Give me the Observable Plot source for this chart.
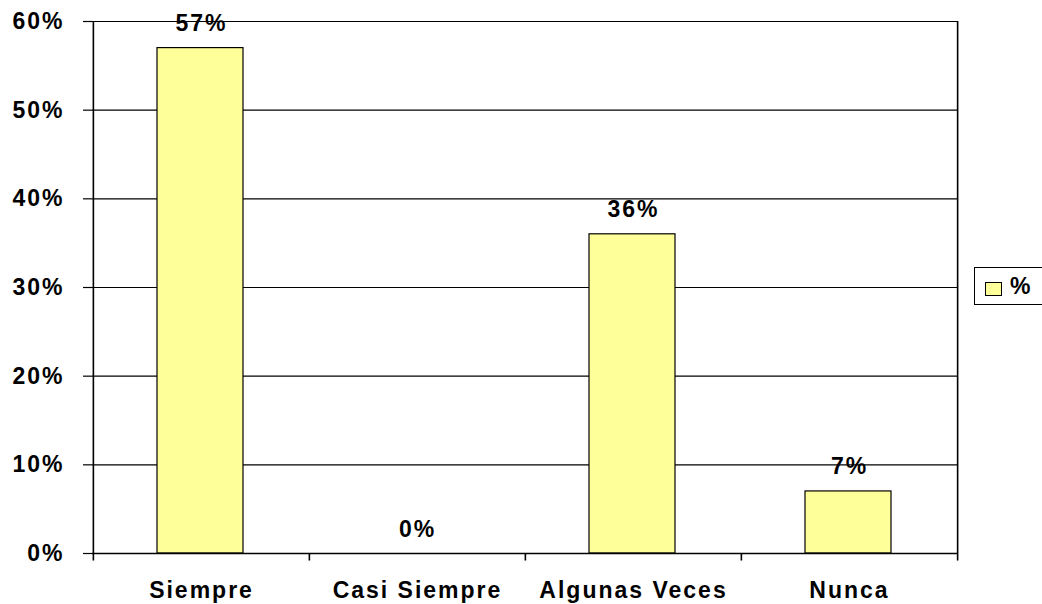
<!DOCTYPE html>
<html>
<head>
<meta charset="utf-8">
<script src="https://cdn.jsdelivr.net/npm/d3@7"></script>
<script src="https://cdn.jsdelivr.net/npm/@observablehq/plot@0.6"></script>
<style>
  html, body { margin: 0; padding: 0; background: #fff; }
  #wrap { position: relative; width: 1042px; height: 604px; overflow: hidden; }
  #legend { position: absolute; left: 974px; top: 267px; width: 90px; height: 38px; border: 1px solid #000; background: #fff; box-sizing: border-box;
    font-family: "Liberation Sans", Arial, sans-serif; font-weight: bold; font-size: 23px; }
  #legend .sw { position: absolute; left: 10px; top: 14px; width: 15px; height: 12px; background: #FFFF99; border: 1px solid #000; }
  #legend .lb { position: absolute; left: 35px; top: 5px; letter-spacing: 2px; }
  svg text { font-family: "Liberation Sans", Arial, sans-serif; font-weight: bold; letter-spacing: 2px; }
</style>
</head>
<body>
<div id="wrap"></div>
<script>
const categories = ["Siempre", "Casi Siempre", "Algunas Veces", "Nunca"];
const values = [0.57, 0.00, 0.36, 0.07];
const yTicks = [0, 0.1, 0.2, 0.3, 0.4, 0.5, 0.6];
const seriesName = "%";

const data = categories.map((c, i) => ({cat: c, value: values[i]}));
const pct = d3.format(".0%");
const W = 1042, H = 604, mL = 92, mR = 85, mT = 21, mB = 51;
const step = (W - mL - mR) / categories.length;

const chart = Plot.plot({
  width: W,
  height: H,
  marginLeft: mL,
  marginRight: mR,
  marginTop: mT,
  marginBottom: mB,
  style: {background: "#fff", overflow: "visible"},
  x: {type: "band", domain: categories, padding: 0},
  y: {domain: [0, 0.6]},
  marks: [
    Plot.ruleY(yTicks, {stroke: "#000", strokeWidth: 1.2}),
    Plot.barY(data, {x: "cat", y: "value", fill: "#FFFF99", stroke: "#000", strokeWidth: 1.2, insetLeft: 64, insetRight: 66}),
    Plot.ruleX(data, {x: "cat", y1: 0, y2: -0.0085, dx: -step / 2, stroke: "#000", strokeWidth: 1.6}),
    Plot.ruleX([data[data.length - 1]], {x: "cat", y1: 0, y2: -0.0085, dx: step / 2, stroke: "#000", strokeWidth: 1.6}),
    Plot.ruleX([data[0]], {x: "cat", y1: 0, y2: 0.6, dx: -step / 2, stroke: "#000", strokeWidth: 1.6}),
    Plot.ruleX([data[data.length - 1]], {x: "cat", y1: 0, y2: 0.6, dx: step / 2, stroke: "#000", strokeWidth: 1.6}),
    Plot.ruleY([0], {stroke: "#000", strokeWidth: 1.6}),
    Plot.axisY({ticks: yTicks, tickFormat: pct, tickSize: 9, tickPadding: 19, fontSize: 23, stroke: "#000", fill: "#000", strokeWidth: 1.2, label: null}),
    Plot.axisX({tickSize: 0, tickPadding: 28, fontSize: 23, fill: "#000", label: null}),
    Plot.text(data, {x: "cat", y: "value", text: d => pct(d.value), dy: -17, lineAnchor: "bottom", fontSize: 23, fill: "#000"})
  ]
});

const wrap = document.getElementById("wrap");
wrap.appendChild(chart);
const lg = document.createElement("div");
lg.id = "legend";
lg.innerHTML = `<div class="sw"></div><div class="lb">${seriesName}</div>`;
wrap.appendChild(lg);
</script>
</body>
</html>
